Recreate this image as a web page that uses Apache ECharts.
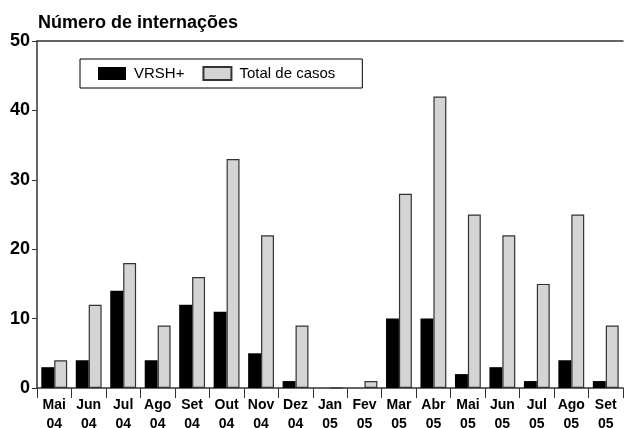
<!DOCTYPE html>
<html><head><meta charset="utf-8">
<script src="https://cdn.jsdelivr.net/npm/echarts@6/dist/echarts.min.js"></script>
<style>html,body{margin:0;padding:0;background:#fff}#c{width:625px;height:428px}</style>
</head><body><div id="c"></div>
<script>
const categories = ["Mai\n04","Jun\n04","Jul\n04","Ago\n04","Set\n04","Out\n04","Nov\n04","Dez\n04","Jan\n05","Fev\n05","Mar\n05","Abr\n05","Mai\n05","Jun\n05","Jul\n05","Ago\n05","Set\n05"];
const vrsh = [3,4,14,4,12,11,5,1,0,0,10,10,2,3,1,4,1];
const total = [4,12,18,9,16,33,22,9,0,1,28,42,25,22,15,25,9];
const yTicks = [0,10,20,30,40,50];

const font = "'Liberation Sans', Arial, Helvetica, sans-serif";
const chart = echarts.init(document.getElementById('c'));
chart.setOption({
  animation: false,
  backgroundColor: '#fff',
  textStyle: {fontFamily: font},
  title: {text: 'Número de internações', left: 33, top: 9,
    textStyle: {fontFamily: font, fontSize: 18, fontWeight: 'bold', color: '#000'}},
  grid: {left: 37, right: 2, top: 41, bottom: 40, containLabel: false, outerBoundsMode: 'none'},
  legend: {
    left: 80, top: 59, orient: 'horizontal',
    borderColor: '#000', borderWidth: 1, padding: [7, 27, 7, 18],
    itemWidth: 28, itemHeight: 13, itemGap: 18,
    textStyle: {fontFamily: font, fontSize: 15, color: '#000', padding: [0, 0, 0, 3]},
    data: [{name: 'VRSH+', icon: 'rect'}, {name: 'Total de casos', icon: 'rect'}]
  },
  xAxis: [{
    type: 'category', data: categories,
    axisLine: {lineStyle: {color: '#333', width: 1.5}},
    axisTick: {show: true, length: 10, interval: 0, lineStyle: {color: '#333'}},
    axisLabel: {interval: 0, fontFamily: font, fontSize: 14, fontWeight: 'bold', color: '#000', lineHeight: 19, margin: 8}
  }, {
    type: 'category', data: categories, position: 'top',
    axisLine: {show: true, lineStyle: {color: '#333', width: 1.5}},
    axisTick: {show: false}, axisLabel: {show: false}
  }],
  yAxis: {
    type: 'value', min: 0, max: 50, interval: 10,
    axisLine: {show: true, lineStyle: {color: '#333', width: 1.5}},
    axisTick: {show: true, length: 5, lineStyle: {color: '#333'}},
    splitLine: {show: false},
    axisLabel: {fontFamily: font, fontSize: 18, fontWeight: 'bold', color: '#000', margin: 7,
      formatter: v => yTicks.includes(v) ? String(v) : ''}
  },
  series: [{
    name: 'VRSH+', type: 'bar', data: vrsh, barGap: '0%', barCategoryGap: '25%',
    itemStyle: {color: '#000', borderWidth: 0}
  }, {
    name: 'Total de casos', type: 'bar', data: total,
    itemStyle: {color: '#d4d4d4', borderColor: '#333', borderWidth: 1.2}
  }]
});
</script></body></html>
